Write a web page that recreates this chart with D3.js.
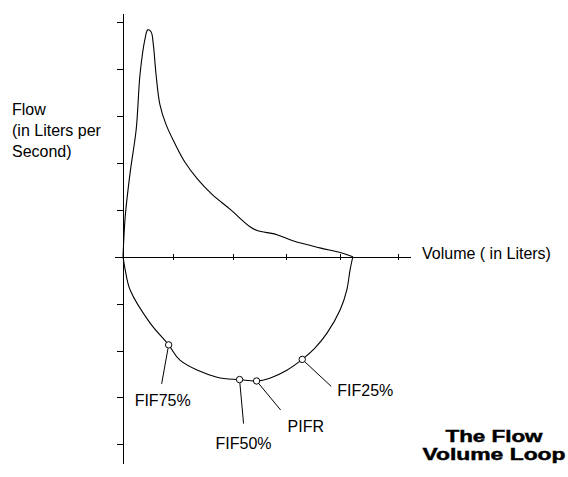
<!DOCTYPE html>
<meta charset="utf-8">
<head>
  <title>The Flow Volume Loop</title>
  <script src="https://cdn.jsdelivr.net/npm/d3@7"></script>
  <style>
    body {margin: 0; background: #fff;}
    text {font-family: "Liberation Sans", Arial, sans-serif; font-size: 16px; fill: #000;}
    .title {font-weight: bold; font-size: 16px; stroke: #000; stroke-width: 0.45px;}
  </style>
</head>
<body>
<div id="chart"></div>
<script>
// expiration (upper half of the loop), volume in liters / flow in liters per second
var expVolume = [0, 0.04, 0.13, 0.24, 0.31, 0.40, 0.45, 0.51, 0.55, 0.60, 0.67, 0.78, 0.95, 1.13, 1.36, 1.62, 1.95, 2.31, 2.44, 2.80, 3.09, 3.58, 3.95, 4.13, 4.18];
var expFlow   = [0, 0.86, 1.80, 2.72, 3.90, 4.65, 4.84, 4.80, 4.54, 3.90, 3.25, 2.83, 2.40, 2.01, 1.65, 1.33, 1.01, 0.64, 0.56, 0.47, 0.34, 0.19, 0.09, 0.02, 0];

// inspiration (lower half of the loop)
var inspVolume = [4.18, 4.13, 4.07, 3.95, 3.71, 3.49, 3.26, 2.98, 2.67, 2.43, 2.12, 1.71, 1.04, 0.83, 0.49, 0.13, 0.04, 0];
var inspFlow   = [0, -0.28, -0.71, -1.13, -1.63, -1.95, -2.19, -2.42, -2.59, -2.65, -2.62, -2.57, -2.21, -1.88, -1.41, -0.71, -0.28, 0];

// marked points on the inspiratory curve
var markerNames  = ["FIF75%", "FIF50%", "PIFR", "FIF25%"];
var markerVolume = [0.83, 2.12, 2.43, 3.26];
var markerFlow   = [-1.88, -2.62, -2.65, -2.19];

// tick positions
var xTickValues = [0.91, 2, 2.96, 3.95, 5];
var yTickValues = [5, 4, 3, 2, 1, -1, -2, -3, -4];

var width = 568, height = 477;

var svg = d3.select("#chart").append("svg")
    .attr("width", width)
    .attr("height", height);

var x = d3.scaleLinear().domain([-0.164, 5.22]).range([114, 410]);
var y = d3.scaleLinear().domain([-4.4, 5.2]).range([463, 13]);

// y axis, ticks pointing left
svg.append("g")
    .attr("transform", "translate(" + Math.round(x(0)) + ",0)")
    .call(d3.axisLeft(y).tickValues(yTickValues).tickSize(6).tickSizeOuter(0).tickFormat(""))
    .call(g => g.selectAll("path,line").attr("stroke", "#000").attr("shape-rendering", "crispEdges"));

// x axis, ticks crossing the line
svg.append("g")
    .attr("transform", "translate(0," + Math.round(y(0)) + ")")
    .call(d3.axisBottom(x).tickValues(xTickValues).tickSize(3).tickSizeOuter(0).tickFormat(""))
    .call(g => g.selectAll("line").attr("y1", -3).attr("y2", 3))
    .call(g => g.selectAll("path,line").attr("stroke", "#000").attr("shape-rendering", "crispEdges"));

var line = d3.line()
    .x(d => x(d[0]))
    .y(d => y(d[1]))
    .curve(d3.curveCatmullRom.alpha(0.5));

svg.append("path")
    .datum(d3.zip(expVolume, expFlow))
    .attr("d", line)
    .attr("fill", "none")
    .attr("stroke", "#000")
    .attr("stroke-width", 1.1);

svg.append("path")
    .datum(d3.zip(inspVolume, inspFlow))
    .attr("d", line)
    .attr("fill", "none")
    .attr("stroke", "#000")
    .attr("stroke-width", 1.1);

// leader line end and label offsets from each marker, in pixels
var leaderEnd = [[-7, 39], [4, 44], [24, 29], [29, 27]];
var labelPos  = [[-34, 61], [-24, 69], [31, 51], [35, 37]];

markerNames.forEach(function(name, i) {
    var mx = x(markerVolume[i]), my = y(markerFlow[i]);
    var ex = mx + leaderEnd[i][0], ey = my + leaderEnd[i][1];
    var len = Math.hypot(ex - mx, ey - my);
    svg.append("line")
        .attr("x1", mx + (ex - mx) / len * 3.5)
        .attr("y1", my + (ey - my) / len * 3.5)
        .attr("x2", ex)
        .attr("y2", ey)
        .attr("stroke", "#000");
    svg.append("circle")
        .attr("cx", mx)
        .attr("cy", my)
        .attr("r", 3.2)
        .attr("fill", "#fff")
        .attr("stroke", "#000");
    svg.append("text")
        .attr("x", mx + labelPos[i][0])
        .attr("y", my + labelPos[i][1])
        .text(name);
});

// axis labels
svg.append("text")
    .attr("x", 422)
    .attr("y", 259)
    .text("Volume ( in Liters)");

svg.selectAll(".ylab")
    .data(["Flow", "(in Liters per", "Second)"])
    .enter()
    .append("text")
    .attr("class", "ylab")
    .attr("x", 12)
    .attr("y", (d, i) => 115 + i * 21)
    .text(d => d);

// title, glyphs stretched to the width of the original bitmap font
var titleWidths = [97, 143];
svg.selectAll(".title")
    .data(["The Flow", "Volume Loop"])
    .enter()
    .append("text")
    .attr("class", "title")
    .attr("x", 494)
    .attr("y", (d, i) => 442 + i * 18)
    .attr("text-anchor", "middle")
    .attr("textLength", (d, i) => titleWidths[i])
    .attr("lengthAdjust", "spacingAndGlyphs")
    .text(d => d);
</script>
</body>
</html>
